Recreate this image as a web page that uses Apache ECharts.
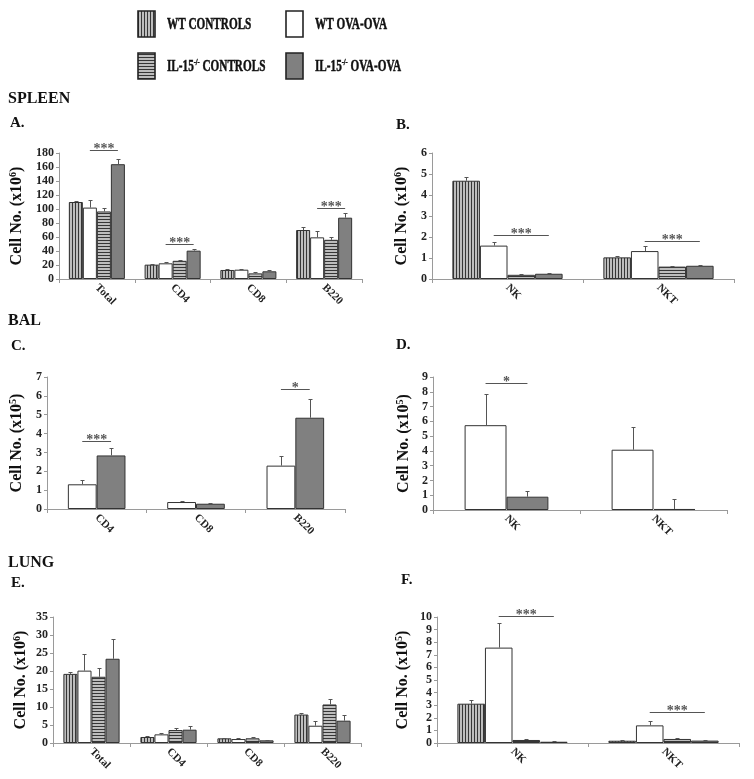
<!DOCTYPE html>
<html><head><meta charset="utf-8">
<script src="https://cdn.jsdelivr.net/npm/echarts@6/dist/echarts.min.js"></script>
<style>html,body{margin:0;padding:0;background:#fff}#c{width:754px;height:779px}</style>
</head><body><div id="c"></div>
<script>
// ---------- DATA ----------
const seriesNames = ['WT CONTROLS', 'WT OVA-OVA', 'IL-15-/- CONTROLS', 'IL-15-/- OVA-OVA'];

// A. Spleen (x10^6)
const catsA = ['Total', 'CD4', 'CD8', 'B220'];
const A_wtCtrl = [110, 20.5, 12.9, 70];
const A_wtOva = [102, 22.4, 13.3, 59.5];
const A_ilCtrl = [96.5, 26, 8, 56];
const A_ilOva = [164, 40.5, 11, 87.6];
const A_wtCtrlErr = [1.5, 1, 1, 4.8];
const A_wtOvaErr = [11, 1.6, 1.5, 8.5];
const A_ilCtrlErr = [4.5, 1.6, 1.5, 3.5];
const A_ilOvaErr = [8, 2.5, 1.4, 6.7];
const A_sigCat = [0, 1, 3];
const A_sigY = [184, 50.5, 101];
const A_sigTxt = ['***', '***', '***'];

// B. Spleen NK (x10^6)
const catsB = ['NK', 'NKT'];
const B_wtCtrl = [4.68, 1.03];
const B_wtOva = [1.59, 1.33];
const B_ilCtrl = [0.2, 0.59];
const B_ilOva = [0.25, 0.63];
const B_wtCtrlErr = [0.18, 0.05];
const B_wtOvaErr = [0.16, 0.23];
const B_ilCtrlErr = [0.02, 0.04];
const B_ilOvaErr = [0.02, 0.05];
const B_sigCat = [0, 1];
const B_sigY = [2.08, 1.79];
const B_sigTxt = ['***', '***'];

// C. BAL (x10^5)
const catsC = ['CD4', 'CD8', 'B220'];
const C_wtOva = [1.31, 0.37, 2.3];
const C_ilOva = [2.84, 0.28, 4.84];
const C_wtOvaErr = [0.21, 0.06, 0.52];
const C_ilOvaErr = [0.42, 0.06, 1.01];
const C_sigCat = [0, 2];
const C_sigY = [3.62, 6.35];
const C_sigTxt = ['***', '*'];

// D. BAL NK (x10^5)
const catsD = ['NK', 'NKT'];
const D_wtOva = [5.74, 4.08];
const D_ilOva = [0.9, 0.07];
const D_wtOvaErr = [2.1, 1.51];
const D_ilOvaErr = [0.36, 0.7];
const D_sigCat = [0];
const D_sigY = [8.6];
const D_sigTxt = ['*'];

// E. Lung (x10^6)
const catsE = ['Total', 'CD4', 'CD8', 'B220'];
const E_wtCtrl = [19.2, 1.67, 1.3, 7.9];
const E_wtOva = [20.1, 2.4, 1.1, 4.8];
const E_ilCtrl = [18.4, 3.6, 1.3, 10.7];
const E_ilOva = [23.4, 3.7, 0.74, 6.2];
const E_wtCtrlErr = [0.5, 0.15, 0.2, 0.4];
const E_wtOvaErr = [4.5, 0.5, 0.4, 1.3];
const E_ilCtrlErr = [2.4, 0.6, 0.35, 1.6];
const E_ilOvaErr = [5.5, 1.0, 0.16, 1.6];

// F. Lung NK (x10^5)
const catsF = ['NK', 'NKT'];
const F_wtCtrl = [3.12, 0.18];
const F_wtOva = [7.57, 1.4];
const F_ilCtrl = [0.24, 0.32];
const F_ilOva = [0.1, 0.19];
const F_wtCtrlErr = [0.29, 0.02];
const F_wtOvaErr = [1.98, 0.37];
const F_ilCtrlErr = [0.05, 0.05];
const F_ilOvaErr = [0.03, 0.02];
const F_sigCat = [0, 1];
const F_sigY = [10.1, 2.49];
const F_sigTxt = ['***', '***'];

// y axis ticks
const yMaxA = 180, yStepA = 20;
const yMaxB = 6, yStepB = 1;
const yMaxC = 7, yStepC = 1;
const yMaxD = 9, yStepD = 1;
const yMaxE = 35, yStepE = 5;
const yMaxF = 10, yStepF = 1;

// ---------- STYLE ----------
const FONT = '"Liberation Serif","Times New Roman",serif';
function stripe(vertical) {
  const c = document.createElement('canvas'); c.width = 3; c.height = 3;
  const g = c.getContext('2d');
  g.fillStyle = '#bdbdbd'; g.fillRect(0, 0, 3, 3);
  g.fillStyle = '#363636';
  if (vertical) g.fillRect(0, 0, 1, 3); else g.fillRect(0, 0, 3, 1);
  return c;
}
const fills = [
  { image: stripe(true), repeat: 'repeat' },
  '#ffffff',
  { image: stripe(false), repeat: 'repeat' },
  '#808080'
];

const panels = [
  { cats: catsA, data: [A_wtCtrl, A_wtOva, A_ilCtrl, A_ilOva], errs: [A_wtCtrlErr, A_wtOvaErr, A_ilCtrlErr, A_ilOvaErr], ids: [0, 1, 2, 3],
    max: yMaxA, step: yStepA, exp: '6', grid: { left: 59, top: 153, width: 303, height: 126 }, gap: 0.26, nameGap: 34,
    sig: { cat: A_sigCat, y: A_sigY, txt: A_sigTxt, from: 1, to: 3 } },
  { cats: catsB, data: [B_wtCtrl, B_wtOva, B_ilCtrl, B_ilOva], errs: [B_wtCtrlErr, B_wtOvaErr, B_ilCtrlErr, B_ilOvaErr], ids: [0, 1, 2, 3],
    max: yMaxB, step: yStepB, exp: '6', grid: { left: 432, top: 153, width: 302, height: 126 }, gap: 0.27, nameGap: 22,
    sig: { cat: B_sigCat, y: B_sigY, txt: B_sigTxt, from: 1, to: 3 } },
  { cats: catsC, data: [C_wtOva, C_ilOva], errs: [C_wtOvaErr, C_ilOvaErr], ids: [1, 3],
    max: yMaxC, step: yStepC, exp: '5', grid: { left: 47, top: 377, width: 298, height: 132 }, gap: 0.42, nameGap: 22,
    sig: { cat: C_sigCat, y: C_sigY, txt: C_sigTxt, from: 0, to: 1 } },
  { cats: catsD, data: [D_wtOva, D_ilOva], errs: [D_wtOvaErr, D_ilOvaErr], ids: [1, 3],
    max: yMaxD, step: yStepD, exp: '5', grid: { left: 433, top: 377, width: 294, height: 133 }, gap: 0.43, nameGap: 21,
    sig: { cat: D_sigCat, y: D_sigY, txt: D_sigTxt, from: 0, to: 1 } },
  { cats: catsE, data: [E_wtCtrl, E_wtOva, E_ilCtrl, E_ilOva], errs: [E_wtCtrlErr, E_wtOvaErr, E_ilCtrlErr, E_ilOvaErr], ids: [0, 1, 2, 3],
    max: yMaxE, step: yStepE, exp: '6', grid: { left: 53, top: 617, width: 308, height: 126 }, gap: 0.27, nameGap: 24,
    sig: null },
  { cats: catsF, data: [F_wtCtrl, F_wtOva, F_ilCtrl, F_ilOva], errs: [F_wtCtrlErr, F_wtOvaErr, F_ilCtrlErr, F_ilOvaErr], ids: [0, 1, 2, 3],
    max: yMaxF, step: yStepF, exp: '5', grid: { left: 437, top: 617, width: 302, height: 126 }, gap: 0.27, nameGap: 26,
    sig: { cat: F_sigCat, y: F_sigY, txt: F_sigTxt, from: 1, to: 3 } }
];

function barX(api, cat, k, n, gap) {
  const c = api.coord([cat, 0])[0];
  const band = api.size([1, 0])[0];
  const tot = band * (1 - gap);
  return c - tot / 2 + (k + 0.5) * tot / n;
}

const grids = [], xAxes = [], yAxes = [], series = [];
panels.forEach((p, pi) => {
  grids.push(Object.assign({ containLabel: false }, p.grid));
  xAxes.push({
    type: 'category', gridIndex: pi, data: p.cats, boundaryGap: true,
    axisLine: { show: true, lineStyle: { color: '#9a9a9a', width: 1 } },
    axisTick: { show: true, length: 4, lineStyle: { color: '#9a9a9a' } },
    axisLabel: { rotate: -45, interval: 0, margin: 7, fontFamily: FONT, fontWeight: 'bold', fontSize: 11, color: '#222' },
    splitLine: { show: false }
  });
  yAxes.push({
    type: 'value', gridIndex: pi, min: 0, max: p.max, interval: p.step,
    name: 'Cell No. (x10{sup|' + p.exp + '})', nameLocation: 'middle', nameRotate: 90, nameGap: p.nameGap,
    nameTextStyle: { fontFamily: FONT, fontWeight: 'bold', fontSize: 16, color: '#111',
      rich: { sup: { fontFamily: FONT, fontWeight: 'bold', fontSize: 10, color: '#111', verticalAlign: 'top', padding: [0, 0, 7, 0] } } },
    axisLine: { show: true, lineStyle: { color: '#9a9a9a', width: 1 } },
    axisTick: { show: true, length: 3, lineStyle: { color: '#9a9a9a' } },
    axisLabel: { fontFamily: FONT, fontWeight: 'bold', fontSize: 12, color: '#222', margin: 5 },
    splitLine: { show: false }
  });
  const n = p.data.length;
  p.data.forEach((arr, k) => {
    series.push({
      type: 'bar', name: seriesNames[p.ids[k]], xAxisIndex: pi, yAxisIndex: pi, data: arr,
      barGap: '0%', barCategoryGap: (p.gap * 100) + '%',
      itemStyle: { color: fills[p.ids[k]], borderColor: '#333', borderWidth: 1 },
      emphasis: { disabled: true }, animation: false
    });
  });
  // error bars
  const errData = [];
  p.data.forEach((arr, k) => arr.forEach((v, ci) => errData.push([ci, v, v + p.errs[k][ci], k])));
  series.push({
    type: 'custom', xAxisIndex: pi, yAxisIndex: pi, data: errData, silent: true, animation: false, z: 5,
    encode: { x: 0, y: [1, 2] },
    renderItem: function (params, api) {
      const cat = api.value(0), v = api.value(1), top = api.value(2), k = api.value(3);
      const x = Math.round(barX(api, cat, k, n, p.gap)) + 0.5;
      const y0 = api.coord([cat, v])[1], y1 = Math.round(api.coord([cat, top])[1]) + 0.5;
      return { type: 'group', children: [
        { type: 'line', shape: { x1: x, y1: y0, x2: x, y2: y1 }, style: { stroke: '#555', lineWidth: 1 } },
        { type: 'line', shape: { x1: x - 2, y1: y1, x2: x + 2, y2: y1 }, style: { stroke: '#555', lineWidth: 1 } }
      ] };
    }
  });
  if (p.sig) {
    const sd = p.sig.cat.map((c, i) => [c, p.sig.y[i]]);
    series.push({
      type: 'custom', xAxisIndex: pi, yAxisIndex: pi, data: sd, silent: true, animation: false, z: 6, clip: false,
      encode: { x: 0, y: 1 },
      renderItem: function (params, api) {
        const cat = api.value(0), yv = api.value(1);
        const xa = barX(api, cat, p.sig.from, n, p.gap), xb = barX(api, cat, p.sig.to, n, p.gap);
        const y = Math.round(api.coord([cat, yv])[1]) + 0.5;
        return { type: 'group', children: [
          { type: 'line', shape: { x1: xa, y1: y, x2: xb, y2: y }, style: { stroke: '#555', lineWidth: 1 } },
          { type: 'text', style: { text: p.sig.txt[params.dataIndex], x: (xa + xb) / 2, y: y - 1, align: 'center', verticalAlign: 'middle',
            font: 'bold 14px ' + FONT, fill: '#555' } }
        ] };
      }
    });
  }
});

// headings
const headings = [
  ['SPLEEN', 8, 91, 16], ['A.', 10, 116, 15], ['B.', 396, 118, 15],
  ['BAL', 8, 313, 16], ['C.', 11, 339, 15], ['D.', 396, 338, 15],
  ['LUNG', 8, 555, 16], ['E.', 11, 576, 15], ['F.', 401, 573, 15]
];
const graphics = headings.map(h => ({ type: 'text', left: h[1], top: h[2],
  style: { text: h[0], font: 'bold ' + h[3] + 'px ' + FONT, fill: '#111' } }));

// legend (drawn as graphic)
const legendPos = [[138, 11], [286, 11], [138, 53], [286, 53]];
const legendLabels = ['WT CONTROLS', 'WT OVA-OVA', 'IL-15{sup|-/-} CONTROLS', 'IL-15{sup|-/-} OVA-OVA'];
legendPos.forEach((pos, i) => {
  graphics.push({ type: 'rect', shape: { x: pos[0], y: pos[1], width: 17, height: 26 },
    style: { fill: fills[i], stroke: '#222', lineWidth: 1.6 } });
  graphics.push({ type: 'text', x: pos[0] + 29, y: pos[1] + 14, scaleX: 0.7,
    style: { text: legendLabels[i], x: 0, y: 0, verticalAlign: 'middle', font: 'bold 16px ' + FONT, fill: '#111',
      stroke: '#111', lineWidth: 0.5,
      rich: { sup: { font: 'bold 9px ' + FONT, fill: '#111', verticalAlign: 'top', padding: [0, 0, 8, 0] } } } });
});

const chart = echarts.init(document.getElementById('c'), null, { renderer: 'canvas' });
chart.setOption({
  backgroundColor: '#fff',
  animation: false,
  grid: grids, xAxis: xAxes, yAxis: yAxes, series: series,
  graphic: graphics
});
</script></body></html>
